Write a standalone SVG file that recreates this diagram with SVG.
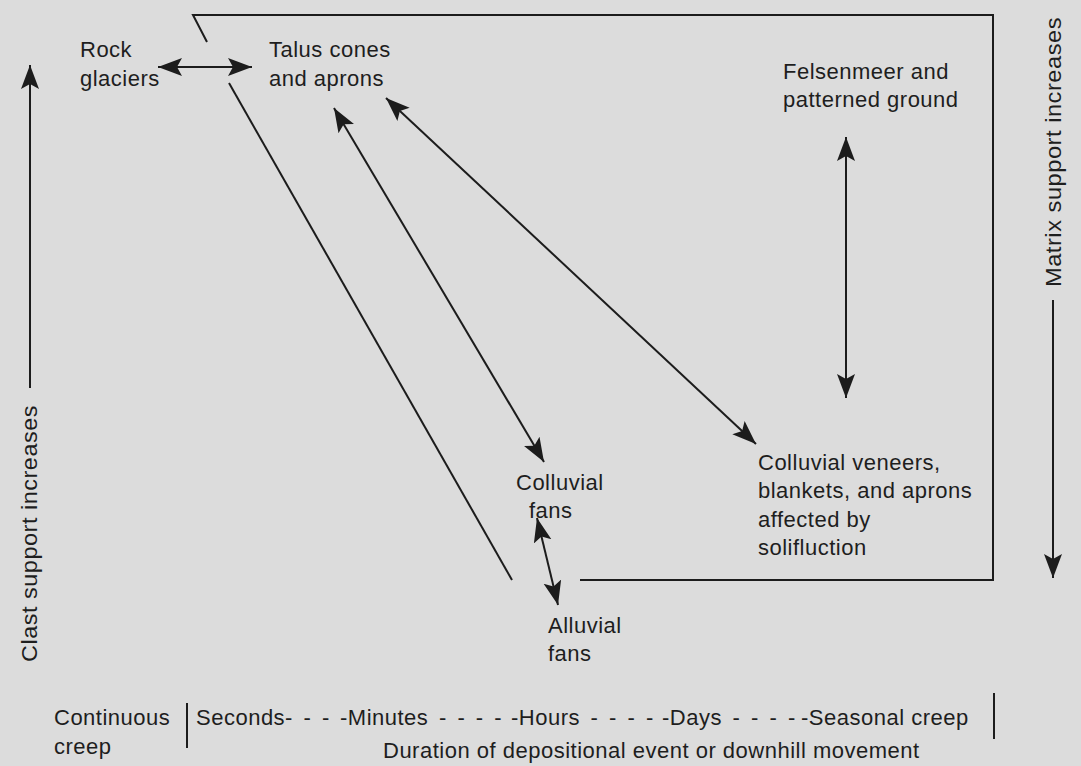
<svg xmlns="http://www.w3.org/2000/svg" width="1081" height="766" viewBox="0 0 1081 766">
<defs>
<style>
.t{font-family:"Liberation Sans",Arial,Helvetica,sans-serif;font-size:22px;letter-spacing:0.5px;fill:#1e1e1e}
.w{word-spacing:4px}
.ln{stroke:#1c1c1c;stroke-width:2;fill:none}
.ar{stroke:#1c1c1c;stroke-width:2;fill:none;marker-end:url(#ah)}
.dar{stroke:#1c1c1c;stroke-width:2;fill:none;marker-start:url(#ah);marker-end:url(#ah)}
</style>
<marker id="ah" markerUnits="userSpaceOnUse" markerWidth="26" markerHeight="20" refX="24" refY="9" orient="auto-start-reverse">
<path d="M0,0 L24,9 L0,18 L5,9 z" fill="#1c1c1c"/>
</marker>
</defs>
<rect width="1081" height="766" fill="#dcdcdc"/>

<g id="connectors">
<path class="ln" d="M207,42 L193,15 L993,15 L993,580 L580,580"/>
<path class="ln" d="M229,83 L512,580"/>
<path class="dar" d="M158,67 L252,67"/>
<path class="dar" d="M334,108 L544,462"/>
<path class="dar" d="M386,98 L756,444"/>
<path class="dar" d="M846,137 L846,398"/>
<path class="dar" d="M537,518 L558,605"/>
<path class="ar" d="M30,388 L30,65"/>
<path class="ar" d="M1053,300 L1053,578"/>
<path class="ln" d="M187,703 L187,748" stroke-width="3"/>
<path class="ln" d="M994,693 L994,739" stroke-width="3"/>
</g>

<g id="rock-glaciers"><text class="t" x="80" y="57">Rock</text><text class="t" x="80" y="86">glaciers</text></g>
<g id="talus"><text class="t" x="269" y="57">Talus cones</text><text class="t" x="269" y="86">and aprons</text></g>
<g id="felsenmeer"><text class="t" x="783" y="79">Felsenmeer and</text><text class="t" x="783" y="107">patterned ground</text></g>
<g id="colluvial-fans"><text class="t" x="516" y="490">Colluvial</text><text class="t" x="529" y="518">fans</text></g>
<g id="alluvial-fans"><text class="t" x="548" y="633">Alluvial</text><text class="t" x="548" y="661">fans</text></g>
<g id="colluvial-veneers"><text class="t" x="758" y="470">Colluvial veneers,</text><text class="t" x="758" y="498">blankets, and aprons</text><text class="t" x="758" y="527">affected by</text><text class="t" x="758" y="555">solifluction</text></g>
<g id="clast-axis"><text class="t" transform="translate(37,662) rotate(-90)" textLength="257" lengthAdjust="spacingAndGlyphs">Clast support increases</text></g>
<g id="matrix-axis"><text class="t" transform="translate(1061,287) rotate(-90)" textLength="270" lengthAdjust="spacingAndGlyphs">Matrix support increases</text></g>
<g id="time-axis">
<text class="t" x="54" y="725">Continuous</text><text class="t" x="54" y="754">creep</text>
<text class="t w" x="196" y="725">Seconds- - -</text>
<text class="t w" x="340" y="725">-Minutes - - - -</text>
<text class="t w" x="511" y="725">-Hours - - - -</text>
<text class="t w" x="662" y="725">-Days - - - -</text>
<text class="t" x="801" y="725">-Seasonal creep</text>
<text class="t" x="383" y="758">Duration of depositional event or downhill movement</text>
</g>
</svg>
